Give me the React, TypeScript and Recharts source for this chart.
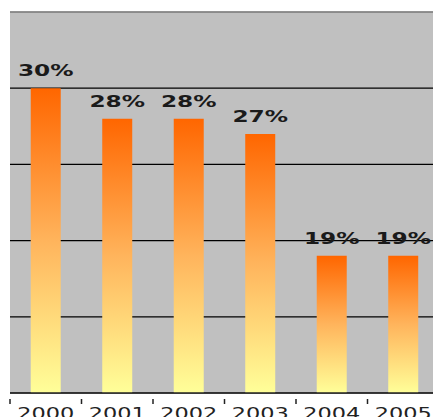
import { BarChart, Bar, XAxis, YAxis, CartesianGrid, ReferenceLine, LabelList } from 'recharts';

const years = ['2000', '2001', '2002', '2003', '2004', '2005'];
const shares = [30, 28, 28, 27, 19, 19];
const gridTicks = [15, 20, 25, 30, 35];

const data = years.map((year, i) => ({ year, share: shares[i] }));

const CHART_W = 445;
const CHART_H = 417;
const MARGIN = { top: 12, right: 6, bottom: 0, left: 10 };
const BAND = (CHART_W - MARGIN.left - MARGIN.right) / years.length;

function YearTick(props: any) {
  const { x, y, payload } = props;
  return (
    <g>
      <line x1={x - BAND / 2} x2={x - BAND / 2} y1={y - 2} y2={y + 3} stroke="#222" strokeWidth={1.5} />
      <text
        transform={`translate(${x},${y + 18}) scale(1.4,1)`}
        textAnchor="middle"
        fontFamily="'DejaVu Sans', sans-serif"
        fontSize={16}
        fill="#222"
      >
        {payload.value}
      </text>
    </g>
  );
}

function ShareLabel(props: any) {
  const { x, y, width, value } = props;
  return (
    <text
      transform={`translate(${x + width / 2},${y - 12}) scale(1.55,1)`}
      textAnchor="middle"
      fontFamily="'DejaVu Sans', sans-serif"
      fontWeight="bold"
      fontSize={15}
      fill="#1a1a1a"
    >
      {`${value}%`}
    </text>
  );
}

const NoTick = () => <g />;

export default function App() {
  return (
    <div style={{ position: 'absolute', left: 0, top: 0, width: 433, height: 417, overflow: 'hidden', background: '#fff' }}>
      <BarChart width={CHART_W} height={CHART_H} data={data} margin={MARGIN} barCategoryGap="29%">
        <defs>
          <linearGradient id="barFill" x1="0" y1="0" x2="0" y2="1">
            <stop offset="0%" stopColor="#ff6600" />
            <stop offset="50%" stopColor="#ffb45c" />
            <stop offset="100%" stopColor="#ffff99" />
          </linearGradient>
        </defs>
        <CartesianGrid vertical={false} fill="#c0c0c0" stroke="#000" strokeWidth={1.2} />
        <YAxis
          domain={[10, 35]}
          ticks={gridTicks}
          tick={<NoTick />}
          tickLine={false}
          width={0}
          axisLine={{ stroke: '#888', strokeWidth: 1.5 }}
        />
        <XAxis
          dataKey="year"
          height={24}
          tickLine={false}
          axisLine={{ stroke: '#222', strokeWidth: 1.5 }}
          tick={<YearTick />}
          interval={0}
        />
        <ReferenceLine y={35} stroke="#999" strokeWidth={1.5} />
        <Bar dataKey="share" fill="url(#barFill)" isAnimationActive={false}>
          <LabelList dataKey="share" content={<ShareLabel />} />
        </Bar>
      </BarChart>
    </div>
  );
}
